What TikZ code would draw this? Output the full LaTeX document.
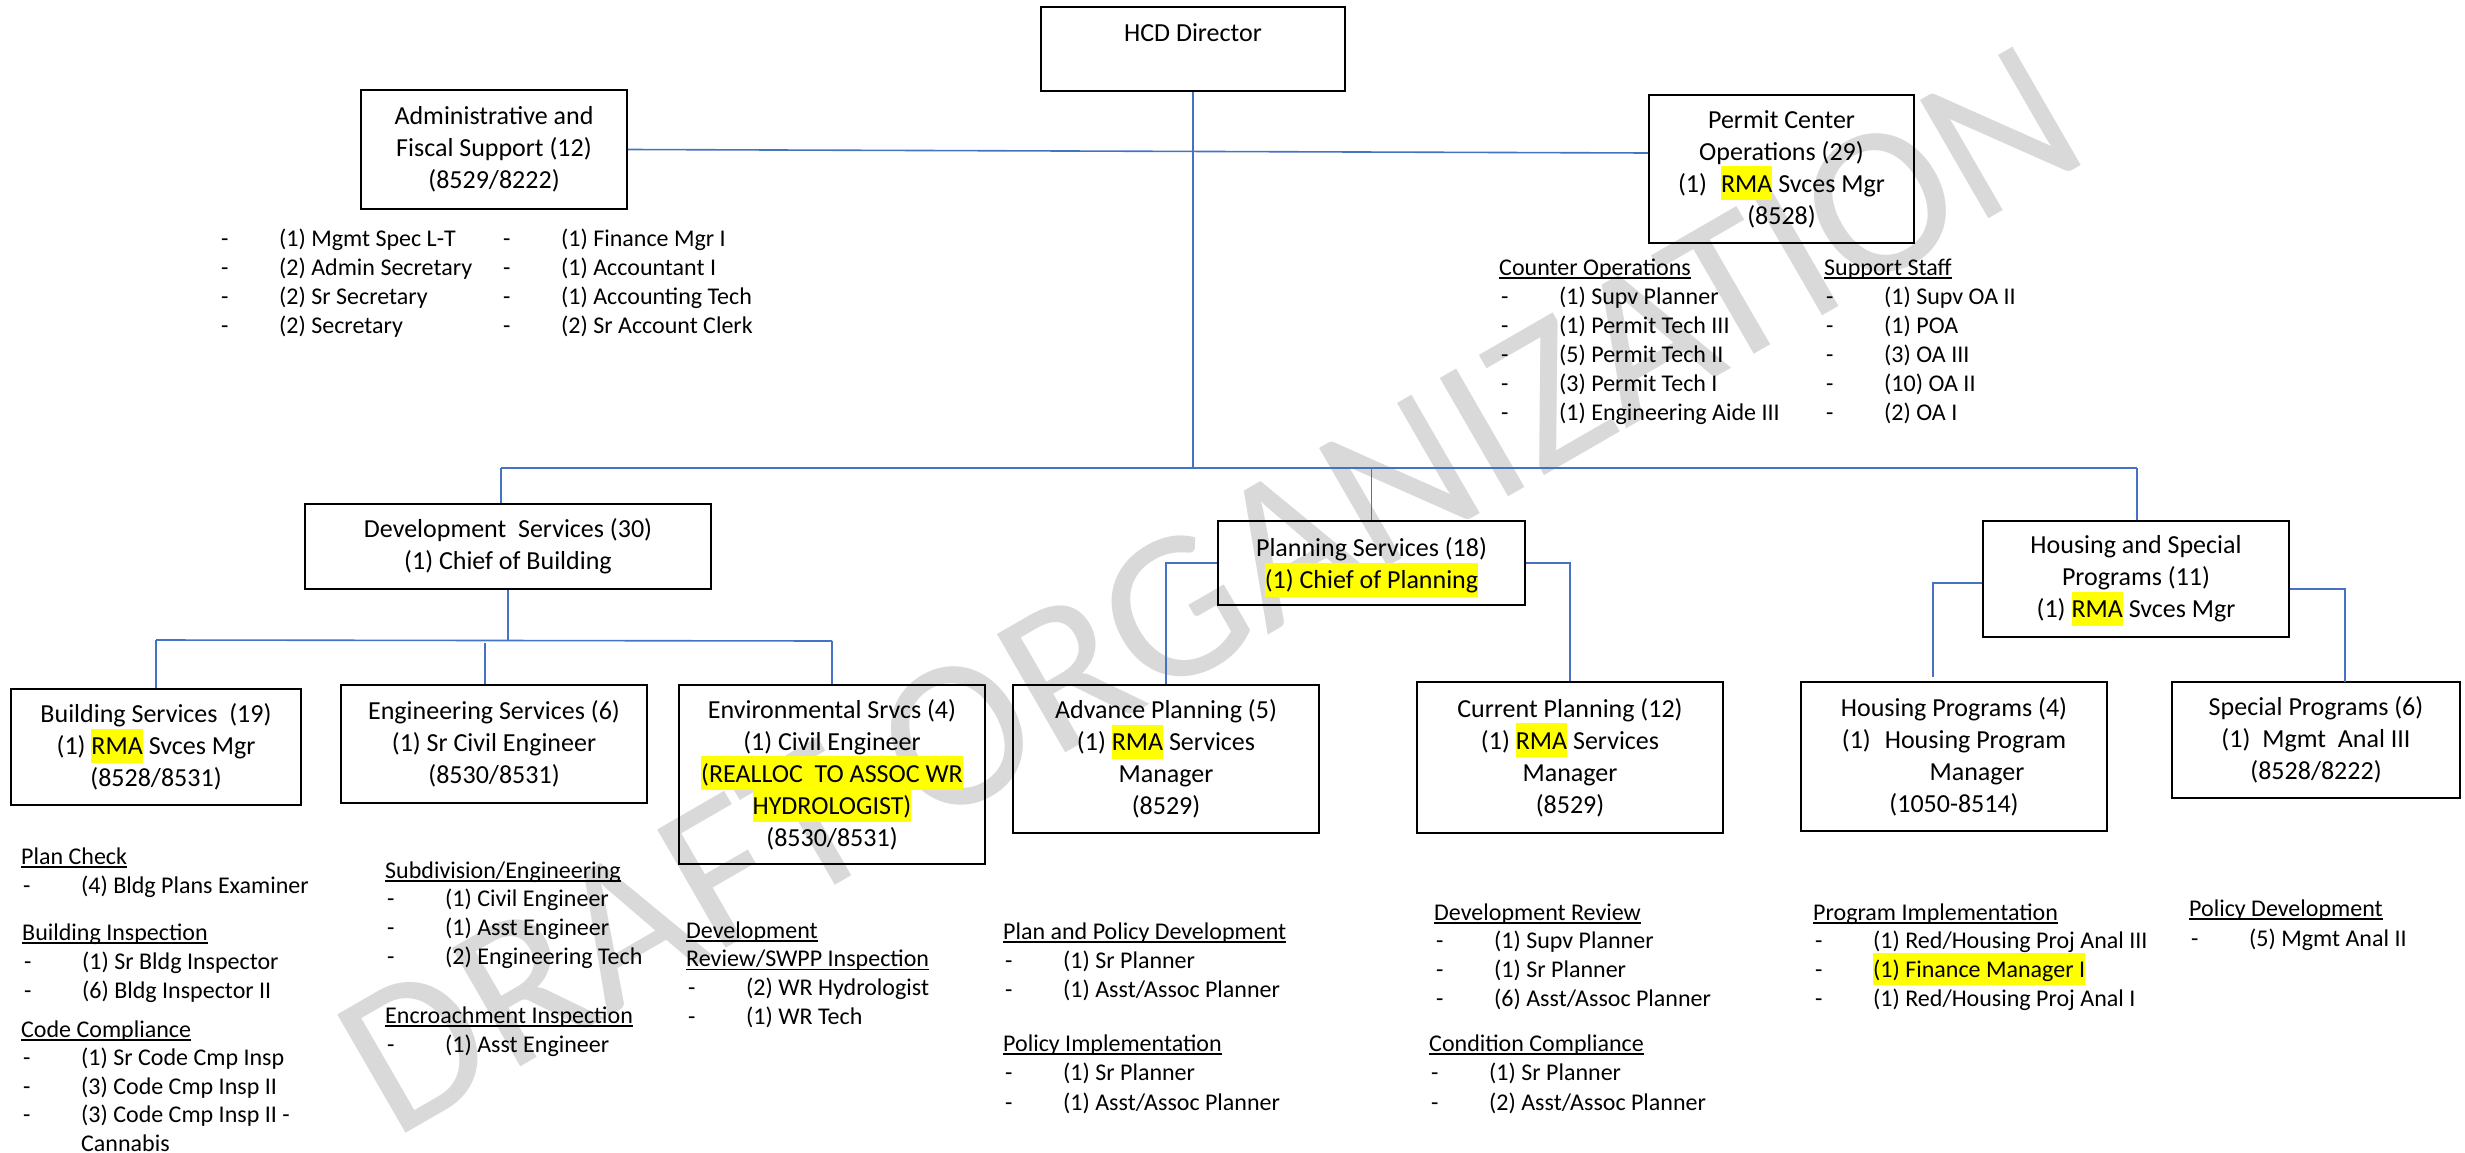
\documentclass[tikz,border=0pt]{standalone}
\usepackage{fontspec}
\setmainfont{Carlito}
\usepackage{xcolor}
\definecolor{connblue}{HTML}{4472C4}
\definecolor{hly}{HTML}{FFFF00}
\definecolor{wm}{HTML}{D9D9D9}
\newcommand\hl[1]{{\setlength{\fboxsep}{0pt}\smash{\colorbox{hly}{\rule[-0.31em]{0pt}{1.31em}#1}}}}
\newcommand\ul[1]{\setbox0\hbox{#1}\rlap{\rule[-3.5pt]{\wd0}{1.4pt}}\box0}
\newcommand\itm[1]{\hbox{\makebox[60pt][l]{\hspace{2pt}-}#1}}
\newcommand\hd[1]{\hbox{\ul{#1}}}
\newcommand\cont[1]{\hbox{\hspace*{60pt}#1}}
\begin{document}
\begin{tikzpicture}[x=1pt,y=-1pt,
  box/.style={draw, line width=1.8pt, inner sep=0pt, align=center, font=\fontsize{26pt}{32pt}\selectfont},
  txt/.style={inner sep=0pt, align=center, font=\fontsize{26pt}{32pt}\selectfont},
  lst/.style={anchor=base west, inner sep=0pt, font=\fontsize{24pt}{29pt}\selectfont},
  conn/.style={draw=connblue, line width=1.6pt}]
\fill[white] (0,0) rectangle (2465,1153);
\useasboundingbox (0,0) rectangle (2465,1153);

% watermark
\node[rotate=30, text=wm, inner sep=0pt, font=\fontsize{213pt}{213pt}\selectfont] (wmk) at (1210,590) {DRAFT ORGANIZATION};

% boxes
\node[box, minimum width=304pt, minimum height=84pt] (hcd) at (1193,49) {};
\node[txt] (hcdt) at (1193,33) {HCD Director};
\node[box, minimum width=266pt, minimum height=119pt] (admin) at (494,149.5) {Administrative and\\Fiscal Support (12)\\(8529/8222)};
\node[box, minimum width=265pt, minimum height=148pt] (permit) at (1781.5,169) {Permit Center\\Operations (29)\\(1)\hspace{14pt}\hl{RMA} Svces Mgr\\(8528)};
\node[box, minimum width=406pt, minimum height=85pt] (dev) at (508,546.5) {Development\ \ Services (30)\\(1) Chief of Building};
\node[box, minimum width=307pt, minimum height=84pt] (plan) at (1371.5,563) {Planning Services (18)\\\hl{(1) Chief of Planning}};
\node[box, minimum width=306pt, minimum height=116pt] (hs) at (2136,579) {Housing and Special\\Programs (11)\\(1) \hl{RMA} Svces Mgr};
\node[box, minimum width=290pt, minimum height=116pt] (bld) at (156,747) {Building Services\ \ (19)\\(1) \hl{RMA} Svces Mgr\\(8528/8531)};
\node[box, minimum width=306pt, minimum height=118pt] (eng) at (494,744) {Engineering Services (6)\\(1) Sr Civil Engineer\\(8530/8531)};
\node[box, minimum width=306pt, minimum height=179pt] (env) at (832,774.5) {Environmental Srvcs (4)\\(1) Civil Engineer\\\hl{(REALLOC\ \ TO ASSOC WR}\\\hl{HYDROLOGIST)}\\(8530/8531)};
\node[box, minimum width=306pt, minimum height=148pt] (adv) at (1166,759) {Advance Planning (5)\\(1) \hl{RMA} Services\\Manager\\(8529)};
\node[box, minimum width=306pt, minimum height=151pt] (cur) at (1570,757.5) {Current Planning (12)\\(1) \hl{RMA} Services\\Manager\\(8529)};
\node[box, minimum width=306pt, minimum height=149pt] (hp) at (1954,756.5) {Housing Programs (4)\\(1)\hspace{14pt}Housing Program\\\hspace*{46pt}Manager\\(1050-8514)};
\node[box, minimum width=288pt, minimum height=116pt] (sp) at (2316,740) {Special Programs (6)\\(1)\hspace{12pt}Mgmt\ \ Anal III\\(8528/8222)};

% connectors
\coordinate (m1) at (501,468);
\coordinate (m3) at (2137,468);
\draw[conn] (hcd.south) -- (hcd.south |- m1);
\draw[conn] (admin.east) -- ([yshift=16pt]permit.west);
\draw[conn] (m1) -- (m3);
\draw[conn] (m1) -- (m1 |- dev.north);
\draw[conn] (plan.north |- m1) -- (plan.north);
\draw[conn] (m3) -- (m3 |- hs.north);

\coordinate (d1) at (156,640);
\coordinate (d3) at (832,641);
\coordinate (e1) at (485,643);
\draw[conn] (dev.south) -- (dev.south |- d1);
\draw[conn] (d1) -- (d3);
\draw[conn] (d1) -- (d1 |- bld.north);
\draw[conn] (d3) -- (d3 |- env.north);
\draw[conn] (e1) -- (e1 |- eng.north);

\draw[conn] (plan.west) -| (adv.north);
\draw[conn] (plan.east) -| (cur.north);
\coordinate (hl) at (1933,677);
\coordinate (hr) at (2345,682);
\draw[conn] ([yshift=-4pt]hs.west) -| (hl);
\draw[conn] ([yshift=-10pt]hs.east) -| (hr);

% lists
\node[lst] (adm1) at (219,246) {\vtop{\baselineskip=29pt
  \itm{(1) Mgmt Spec L-T}\itm{(2) Admin Secretary}\itm{(2) Sr Secretary}\itm{(2) Secretary}}};
\node[lst] (adm2) at (501,246) {\vtop{\baselineskip=29pt
  \itm{(1) Finance Mgr I}\itm{(1) Accountant I}\itm{(1) Accounting Tech}\itm{(2) Sr Account Clerk}}};

\node[lst] (cops) at (1499,275) {\vtop{\baselineskip=29pt
  \hd{Counter Operations}\itm{(1) Supv Planner}\itm{(1) Permit Tech III}\itm{(5) Permit Tech II}\itm{(3) Permit Tech I}\itm{(1) Engineering Aide III}}};
\node[lst] (sups) at (1824,275) {\vtop{\baselineskip=29pt
  \hd{Support Staff}\itm{(1) Supv OA II}\itm{(1) POA}\itm{(3) OA III}\itm{(10) OA II}\itm{(2) OA I}}};

\node[lst] (pchk) at (21,864) {\vtop{\baselineskip=29pt
  \hd{Plan Check}\itm{(4) Bldg Plans Examiner}}};
\node[lst] (binsp) at (22,940) {\vtop{\baselineskip=29pt
  \hd{Building Inspection}\itm{(1) Sr Bldg Inspector}\itm{(6) Bldg Inspector II}}};
\node[lst] (ccmp) at (21,1037) {\vtop{\baselineskip=28.6pt
  \hd{Code Compliance}\itm{(1) Sr Code Cmp Insp}\itm{(3) Code Cmp Insp II}\itm{(3) Code Cmp Insp II -}\cont{Cannabis}}};

\node[lst] (subd) at (385,878) {\vtop{\baselineskip=28.7pt
  \hd{Subdivision/Engineering}\itm{(1) Civil Engineer}\itm{(1) Asst Engineer}\itm{(2) Engineering Tech}}};
\node[lst] (encr) at (385,1023) {\vtop{\baselineskip=29pt
  \hd{Encroachment Inspection}\itm{(1) Asst Engineer}}};

\node[lst] (swpp) at (686,938) {\vtop{\baselineskip=28.7pt
  \hd{Development}\hd{Review/SWPP Inspection}\itm{(2) WR Hydrologist}\itm{(1) WR Tech}}};

\node[lst] (ppd) at (1003,939) {\vtop{\baselineskip=29pt
  \hd{Plan and Policy Development}\itm{(1) Sr Planner}\itm{(1) Asst/Assoc Planner}}};
\node[lst] (pimp) at (1003,1051) {\vtop{\baselineskip=29.5pt
  \hd{Policy Implementation}\itm{(1) Sr Planner}\itm{(1) Asst/Assoc Planner}}};

\node[lst] (drev) at (1434,920) {\vtop{\baselineskip=28.7pt
  \hd{Development Review}\itm{(1) Supv Planner}\itm{(1) Sr Planner}\itm{(6) Asst/Assoc Planner}}};
\node[lst] (cond) at (1429,1051) {\vtop{\baselineskip=29.5pt
  \hd{Condition Compliance}\itm{(1) Sr Planner}\itm{(2) Asst/Assoc Planner}}};

\node[lst] (prog) at (1813,920) {\vtop{\baselineskip=28.7pt
  \hd{Program Implementation}\itm{(1) Red/Housing Proj Anal III}\itm{\hl{(1) Finance Manager I}}\itm{(1) Red/Housing Proj Anal I}}};
\node[lst] (poldev) at (2189,916) {\vtop{\baselineskip=30pt
  \hd{Policy Development}\itm{(5) Mgmt Anal II}}};
\end{tikzpicture}
\end{document}
